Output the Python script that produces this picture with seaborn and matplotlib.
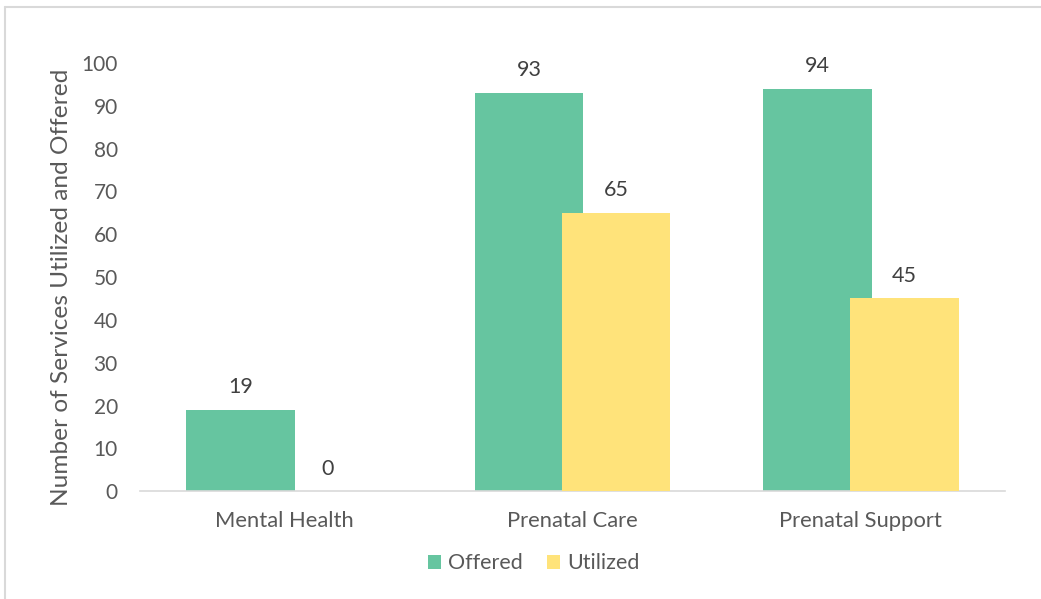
import matplotlib
matplotlib.use("Agg")
import matplotlib.pyplot as plt
from matplotlib.lines import Line2D
import seaborn as sns
import pandas as pd

categories = ["Mental Health", "Prenatal Care", "Prenatal Support"]
offered = [19, 93, 94]
utilized = [0, 65, 45]
series_names = ["Offered", "Utilized"]
colors = ["#66C5A0", "#FFE37A"]

df = pd.DataFrame({
    "Category": categories * 2,
    "Value": offered + utilized,
    "Series": [series_names[0]] * 3 + [series_names[1]] * 3,
})

sns.set_theme(style="white")
plt.rcParams["font.family"] = ["Lato", "DejaVu Sans"]
tick_c = "#595959"
lab_c = "#404040"

fig = plt.figure(figsize=(10.41, 5.99), dpi=100)
ax = fig.add_axes([0.1345, 0.180, 0.831, 0.715])
sns.barplot(data=df, x="Category", y="Value", hue="Series", palette=colors,
            width=0.756, ax=ax, saturation=1, linewidth=0)

# Excel-style overlapping bars: width 0.376, centres at +-0.151
bw, off = 0.376, 0.151
for k, c in enumerate(ax.containers):
    sign = -1 if k == 0 else 1
    for i, p in enumerate(c.patches):
        p.set_width(bw)
        p.set_x(i + sign * off - bw / 2)
        p.set_zorder(2 + k)

ax.set_ylim(0, 100)
ax.set_xlim(-0.5, 2.5)
ax.set_yticks(range(0, 101, 10))
ax.tick_params(axis="y", colors=tick_c, labelsize=15, length=0, pad=16)
ax.tick_params(axis="x", colors=tick_c, labelsize=15.8, length=0, pad=14)
for s in ["top", "right", "left"]:
    ax.spines[s].set_visible(False)
ax.spines["bottom"].set_color("#D9D9D9")
ax.spines["bottom"].set_linewidth(1.2)
ax.set_xlabel("")
ax.set_ylabel("Number of Services Utilized and Offered", color=tick_c, fontsize=17.6)
ax.yaxis.set_label_coords(-0.079, 0.477)

for c in ax.containers:
    ax.bar_label(c, padding=9, color=lab_c, fontsize=15.5)

ax.legend(loc="upper center", bbox_to_anchor=(0.455, -0.1), ncol=2, frameon=False,
          fontsize=15.5, handlelength=0.6, handleheight=0.6, handletextpad=0.35,
          columnspacing=1.1, labelcolor=tick_c)

fig.add_artist(Line2D([5 / 1041, 1], [1 - 7 / 599, 1 - 7 / 599], transform=fig.transFigure,
                      color="#D9D9D9", linewidth=1.5))
fig.add_artist(Line2D([5 / 1041, 5 / 1041], [0, 1 - 7 / 599], transform=fig.transFigure,
                      color="#D9D9D9", linewidth=1.5))
fig.savefig("out.png", dpi=100, facecolor="white")
